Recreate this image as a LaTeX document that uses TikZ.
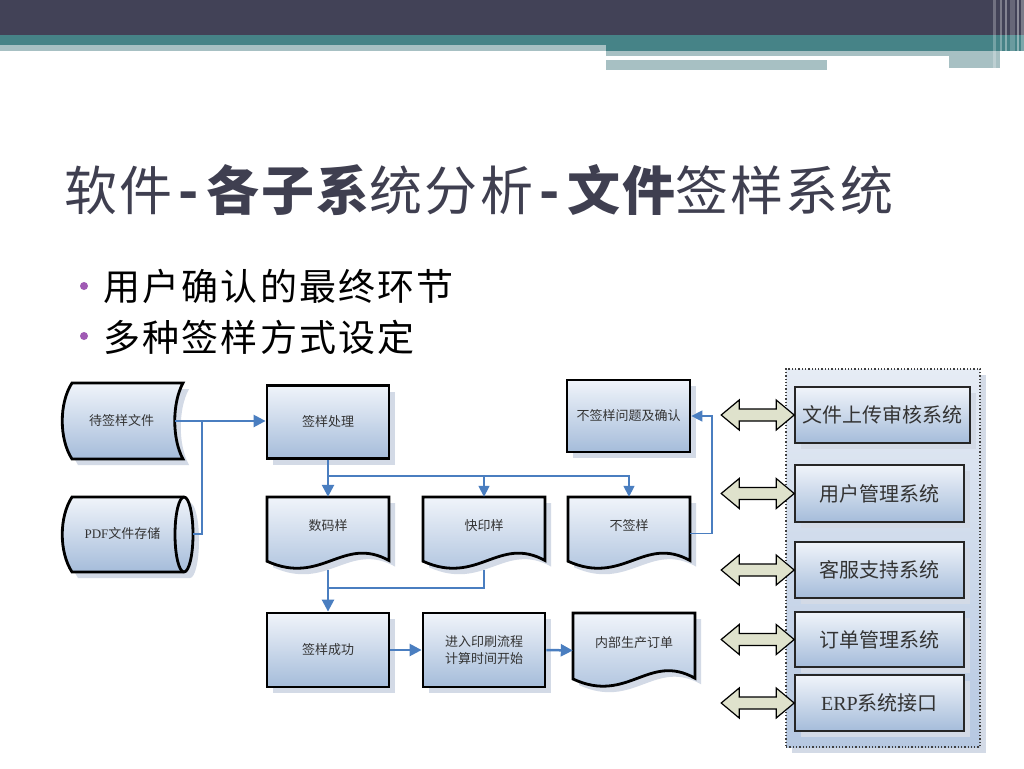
\documentclass[tikz,border=0pt]{standalone}
\usepackage{fontspec}
\setmainfont{Liberation Serif}
\newfontfamily\cjk{Noto Sans CJK SC}
\newfontfamily\cjktitle{Noto Sans CJK SC}[LetterSpace=4]
\newfontfamily\cjkbul{Noto Sans CJK SC}[LetterSpace=6]
\usetikzlibrary{arrows.meta,shadows}
\definecolor{hdark}{HTML}{424257}
\definecolor{hteal}{HTML}{468387}
\definecolor{hlight}{HTML}{A7C0C3}
\definecolor{titlec}{HTML}{3F3F50}
\definecolor{bulc}{HTML}{A05AB4}
\definecolor{connc}{HTML}{4A7EC0}
\definecolor{shad}{HTML}{D3DAE6}
\definecolor{gtop}{HTML}{F0F4FA}
\definecolor{gbot}{HTML}{A5BCDA}
\definecolor{ptop}{HTML}{E6ECF5}
\definecolor{pbot}{HTML}{B6C8E1}
\definecolor{dblc}{HTML}{DFE2CC}
\definecolor{textc}{HTML}{333333}
\newcommand\dfont{\cjk\fontsize{13}{17}\selectfont}
\newcommand\sfont{\cjk\fontsize{20}{24}\selectfont}
\tikzset{
  conn/.style={draw=connc, line width=2.5pt, -{Triangle[length=12pt,width=12pt]}},
  connl/.style={draw=connc, line width=1.6pt},
  connla/.style={draw=connc, line width=1.6pt, -{Triangle[length=11pt,width=11pt]}},
  dshadow/.style={drop shadow={shadow xshift=6pt, shadow yshift=-6pt, fill=shad, opacity=1}},
  box/.style={draw=black, line width=2.8pt, top color=gtop, bottom color=gbot,
    minimum width=122pt, minimum height=73pt, inner sep=2pt, font=\dfont,
    text=textc, align=center, dshadow},
  shapefill/.style={draw=black, line width=2.8pt, top color=gtop, bottom color=gbot},
  ghost/.style={inner sep=0pt, font=\dfont, text=textc, align=center},
  docghost/.style={ghost, minimum width=122pt, minimum height=73pt, text height=11pt, text depth=18pt},
  panel/.style={draw=black!75, dotted, line width=1.3pt, top color=ptop, bottom color=pbot,
    minimum width=194pt, minimum height=378pt, dshadow},
  sub/.style={draw=black!85, line width=1.6pt, top color=gtop, bottom color=gbot,
    minimum height=56pt, inner sep=2pt, font=\sfont, text=textc, dshadow},
  dbl/.style={draw=black, line width=1.2pt, fill=dblc, line join=miter},
}
\newcommand\docpath[4]{({#1},{#2}) -- ({#1+#3},{#2}) -- ({#1+#3},{#2+0.87*#4})
  .. controls ({#1+0.62*#3},{#2+0.52*#4}) and ({#1+0.45*#3},{#2+1.22*#4}) .. ({#1},{#2+0.88*#4}) -- cycle}
\begin{document}
\begin{tikzpicture}[x=1pt,y=-1pt]
\useasboundingbox (0,0) rectangle (1024,768);
\fill[white] (0,0) rectangle (1024,768);
% header
\fill[hdark] (0,0) rectangle (1024,35);
\fill[hteal] (0,35) rectangle (1024,45);
\fill[hteal] (606,45) rectangle (1024,51);
\fill[hlight] (0,45) rectangle (606,51);
\fill[hlight] (606,51) rectangle (1000,56);
\fill[white] (606,56) rectangle (949,60);
\fill[hlight] (949,56) rectangle (1000,68);
\fill[hlight] (606,60) rectangle (827,70);
\fill[white,opacity=0.25] (993,0) rectangle (996,68);
\fill[white,opacity=0.3] (1000,0) rectangle (1002,68);
\fill[white,opacity=0.35] (1005,0) rectangle (1007,68);
\fill[white,opacity=0.2] (1010,0) rectangle (1015,68);
\fill[white,opacity=0.4] (1017,0) rectangle (1019,68);
\fill[white,opacity=0.3] (1021,0) rectangle (1024,68);
% title and bullets
\node[anchor=west, inner sep=0pt, text=titlec, font=\cjktitle\fontsize{53}{60}\selectfont] (title) at (64,190)
  {软件{\bfseries\hspace{6pt}-\hspace{8pt}各子系}统分析{\bfseries\hspace{6pt}-\hspace{8pt}文件}签样系统};
\fill[bulc] (84,286) circle (4);
\fill[bulc] (84,336) circle (4);
\node[anchor=west, inner sep=0pt, text=black, font=\cjkbul\fontsize{37}{42}\selectfont] (b1t) at (103,286) {用户确认的最终环节};
\node[anchor=west, inner sep=0pt, text=black, font=\cjkbul\fontsize{37}{42}\selectfont] (b2t) at (103,337) {多种签样方式设定};
% stored data: 待签样文件
\fill[shad, shift={(6,6)}] (72,383) -- (183,383) .. controls (172,403) and (172,439) .. (183,459) -- (72,459) .. controls (59,439) and (59,403) .. (72,383) -- cycle;
\path[shapefill] (72,383) -- (183,383) .. controls (172,403) and (172,439) .. (183,459) -- (72,459) .. controls (59,439) and (59,403) .. (72,383) -- cycle;
\node[ghost, minimum width=113pt, minimum height=76pt] (dqy) at (118.5,421) {\hspace*{6pt}待签样文件};
% direct access storage: PDF文件存储
\fill[shad, shift={(6,6)}] (72,497) -- (184,497) .. controls (189,497) and (193,513.8) .. (193,534.5) .. controls (193,555.2) and (189,572) .. (184,572) -- (72,572) .. controls (59,552) and (59,517) .. (72,497) -- cycle;
\path[shapefill] (72,497) -- (184,497) .. controls (189,497) and (193,513.8) .. (193,534.5) .. controls (193,555.2) and (189,572) .. (184,572) -- (72,572) .. controls (59,552) and (59,517) .. (72,497) -- cycle;
\draw[black, line width=2.8pt] (184,572) .. controls (179,572) and (175,555.2) .. (175,534.5) .. controls (175,513.8) and (179,497) .. (184,497);
\node[ghost, minimum width=131pt, minimum height=75pt] (pdf) at (127.5,534) {{\rmfamily PDF}文件存储\hspace*{10pt}};
% process boxes
\node[box] (syc) at (328,422) {签样处理};
\node[box, minimum width=123pt, minimum height=72pt] (bqw) at (628.5,416) {不签样问题及确认};
\node[box, minimum height=74pt] (cgs) at (328,650) {签样成功};
\node[box, minimum height=74pt] (jr) at (484,650) {进入印刷流程\\计算时间开始};
% documents
\foreach \x in {267,423,568} {
  \fill[shad, shift={(6,6)}] \docpath{\x}{497}{122}{73};
  \path[shapefill] \docpath{\x}{497}{122}{73};
}
\fill[shad, shift={(6,6)}] \docpath{573}{613}{122}{75};
\path[shapefill] \docpath{573}{613}{122}{75};
\node[docghost] (smy) at (328,533.5) {数码样};
\node[docghost] (kyy) at (484,533.5) {快印样};
\node[docghost] (bqy) at (629,533.5) {不签样};
\node[docghost, minimum height=75pt] (nb) at (634,650.5) {内部生产订单};
% connectors
\coordinate (j1) at (202,421);
\coordinate (br) at (328,476);
\coordinate (j2) at (328,588);
\draw[conn] (dqy.east) -- (syc.west |- dqy.east);
\draw[connl] (pdf.east) -| (j1);
\draw[conn] (syc.south) -- (smy.north);
\draw[connla] (br) -| (kyy.north);
\draw[connla] (br) -| (bqy.north);
\draw[connla] (bqy.east) -- ++(22,0) |- (bqw.east);
\draw[connl] (kyy.south) |- (j2);
\draw[conn] (smy.south) -- (cgs.north);
\draw[conn] (cgs.east) -- (jr.west);
\draw[conn] (jr.east) -- (nb.west);
% right panel
\node[panel] (pnl) at (883,558) {};
\node[sub, minimum width=175pt] (s1) at (882.5,415) {文件上传审核系统};
\node[sub, minimum width=169pt, minimum height=57pt] (s2) at (879.5,493.5) {用户管理系统};
\node[sub, minimum width=169pt] (s3) at (879.5,570) {客服支持系统};
\node[sub, minimum width=169pt, minimum height=55pt] (s4) at (879.5,639.5) {订单管理系统};
\node[sub, minimum width=169pt] (s5) at (879.5,703) {{\rmfamily ERP}系统接口};
\foreach \n in {s1,s2,s3,s4,s5} {
  \draw[dbl] (\n.west) -- ++(-18,-15) -- ++(0,9) -- ++(-37,0) -- ++(0,-9) -- ++(-18,15)
    -- ++(18,15) -- ++(0,-9) -- ++(37,0) -- ++(0,9) -- cycle;
}
\end{tikzpicture}
\end{document}
